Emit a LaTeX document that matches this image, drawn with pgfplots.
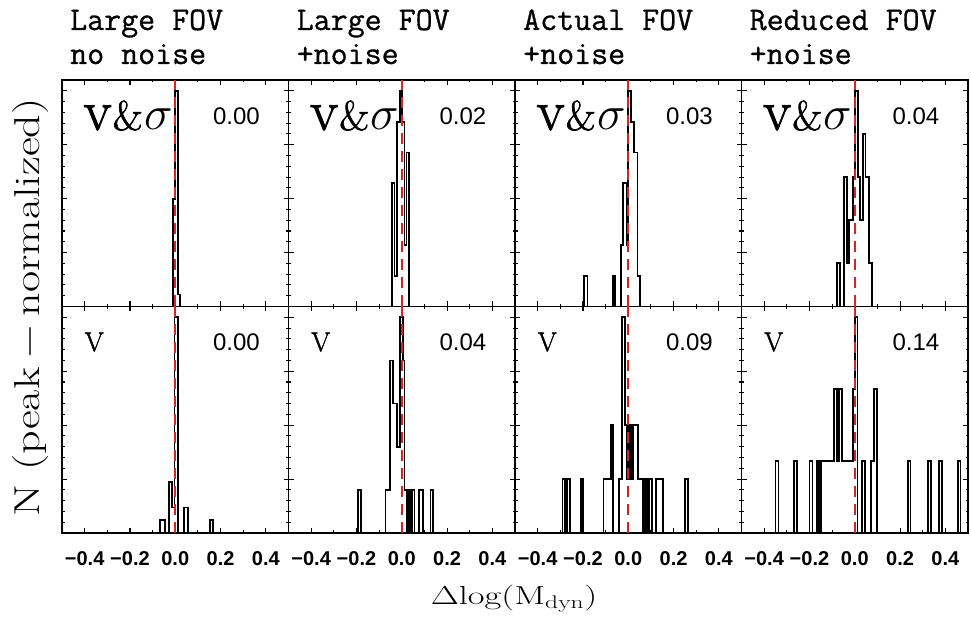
\RequirePackage{fix-cm}
\documentclass[border=0pt]{standalone}
\usepackage{amsmath}
\usepackage{fontspec}
\usepackage{graphicx}
\usepackage{pgfplots}
\pgfplotsset{compat=1.18}
\newfontfamily\sansfont{Liberation Sans}
\newfontfamily\titlefont[FakeBold=0.8]{Latin Modern Mono}
\newfontfamily\lmheavy[FakeBold=1.6]{Latin Modern Roman}
\definecolor{idlred}{RGB}{214,36,36}

\pgfplotsset{
  panel/.style={
    scale only axis, width=226.5pt, height=226.5pt,
    anchor=south west,
    xmin=-0.5, xmax=0.5, ymin=0, ymax=1.05,
    axis line style={line width=1.8pt},
    tick align=inside,
    xtick={-0.4,-0.2,0,0.2,0.4}, minor x tick num=1,
    ytick={0,0.25,0.5,0.75,1}, minor y tick num=4,
    yticklabels={}, xticklabels={},
    tick style={black, line width=1.1pt},
    major tick length=5pt, minor tick length=2.5pt,
  },
  hist/.style={const plot, black, line width=1.8pt, line join=miter, mark=none},
  zero/.style={idlred, line width=1.8pt, dash pattern=on 11pt off 7pt, mark=none},
  bottomrow/.style={xticklabels={−0.4,−0.2,0.0,0.2,0.4},
     xticklabel style={font=\sansfont\bfseries\fontsize{20}{20}\selectfont, yshift=-15pt}},
}
\newcommand{\vsig}{\scalebox{1.3}{{\lmheavy\fontsize{44}{44}\selectfont v}\kern1pt{\lmheavy\fontsize{32}{32}\selectfont\&}\kern1pt{\fontsize{37}{37}\selectfont$\sigma$}}}
\newcommand{\corner}[1]{\node[anchor=east, inner sep=0pt, font=\sansfont\fontsize{24}{24}\selectfont] at (rel axis cs:0.874,0.842) {#1};}
\newcommand{\toplabel}{\node[anchor=west, inner sep=0pt] at (rel axis cs:0.095,0.843) {\vsig};}
\newcommand{\botlabel}{\node[anchor=west, inner sep=0pt, font=\lmheavy\fontsize{26}{26}\selectfont] at (rel axis cs:0.10,0.843) {\scalebox{1.05}{V}};}

\begin{document}
\begin{tikzpicture}
\useasboundingbox (0,0) rectangle (971pt,620pt);

% ---------------- top row ----------------
\begin{axis}[panel, at={(62pt,313.5pt)}]
\addplot[hist] coordinates {(-0.5,0)(-0.010,0.5)(0,1)(0.012,0.056)(0.022,0)(0.5,0)};
\addplot[zero] coordinates {(0,0)(0,1.05)};
\toplabel \corner{0.00}
\end{axis}

\begin{axis}[panel, at={(288.5pt,313.5pt)}]
\addplot[hist] coordinates {(-0.5,0)(-0.043,0.571)(-0.032,0.143)(-0.021,0.857)(-0.009,1)(0.002,0.857)(0.012,0.286)(0.021,0.714)(0.031,0)(0.5,0)};
\addplot[zero] coordinates {(0,0)(0,1.05)};
\toplabel \corner{0.02}
\end{axis}

\begin{axis}[panel, at={(515pt,313.5pt)}]
\addplot[hist] coordinates {(-0.5,0)(-0.194,0.143)(-0.180,0)(-0.069,0.143)(-0.057,0)(-0.032,0.286)(-0.022,0.571)(-0.008,0.286)(0,1)(0.012,0.857)(0.026,0.714)(0.041,0.143)(0.053,0)(0.5,0)};
\addplot[zero] coordinates {(0,0)(0,1.05)};
\toplabel \corner{0.03}
\end{axis}

\begin{axis}[panel, at={(741.5pt,313.5pt)}]
\addplot[hist] coordinates {(-0.5,0)(-0.078,0.2)(-0.065,0)(-0.046,0.6)(-0.035,0.2)(-0.024,0.4)(-0.009,0.6)(0,1)(0.013,0.6)(0.024,0.4)(0.035,0.8)(0.047,0.6)(0.062,0.2)(0.077,0)(0.5,0)};
\addplot[zero] coordinates {(0,0)(0,1.05)};
\toplabel \corner{0.04}
\end{axis}

% ---------------- bottom row ----------------
\begin{axis}[panel, bottomrow, at={(62pt,87pt)}]
\addplot[hist] coordinates {(-0.5,0)(-0.066,0.059)(-0.044,0)(-0.026,0.235)(-0.015,0.118)(-0.003,1)(0.012,0)(0.040,0.118)(0.056,0)(0.152,0.059)(0.167,0)(0.5,0)};
\addplot[zero] coordinates {(0,0)(0,1.05)};
\botlabel \corner{0.00}
\end{axis}

\begin{axis}[panel, bottomrow, at={(288.5pt,87pt)}]
\addplot[hist] coordinates {(-0.5,0)(-0.194,0.2)(-0.180,0)(-0.072,0.2)(-0.053,0.8)(-0.040,0.6)(-0.021,0.4)(-0.009,1)(0.006,0.8)(0.012,0.2)(0.024,0)(0.032,0.2)(0.041,0)(0.047,0.2)(0.056,0)(0.075,0.2)(0.094,0)(0.127,0.2)(0.138,0)(0.5,0)};
\addplot[zero] coordinates {(0,0)(0,1.05)};
\botlabel \corner{0.04}
\end{axis}

\begin{axis}[panel, bottomrow, at={(515pt,87pt)}]
\addplot[hist] coordinates {(-0.5,0)(-0.290,0.25)(-0.280,0)(-0.269,0.25)(-0.258,0)(-0.209,0.25)(-0.199,0)(-0.109,0.25)(-0.077,0.5)(-0.066,0)(-0.040,0.25)(-0.028,1)(-0.015,0.5)(-0.006,0.25)(0.004,0.5)(0.013,0.25)(0.022,0.5)(0.044,0.25)(0.066,0)(0.069,0.25)(0.078,0)(0.082,0.25)(0.091,0)(0.094,0.25)(0.104,0)(0.122,0.25)(0.152,0)(0.252,0.25)(0.263,0)(0.5,0)};
\addplot[zero] coordinates {(0,0)(0,1.05)};
\botlabel \corner{0.09}
\end{axis}

\begin{axis}[panel, bottomrow, at={(741.5pt,87pt)}]
\addplot[hist] coordinates {(-0.5,0)(-0.350,0.333)(-0.337,0)(-0.269,0.333)(-0.256,0)(-0.200,0.333)(-0.187,0)(-0.168,0.333)(-0.157,0)(-0.150,0.333)(-0.090,0.667)(-0.079,0.333)(-0.068,0.667)(-0.056,0.333)(-0.009,0.667)(0.0015,1)(0.012,0)(0.032,0.333)(0.044,0)(0.072,0.333)(0.085,0.667)(0.097,0)(0.234,0.333)(0.246,0)(0.322,0.333)(0.336,0)(0.371,0.333)(0.384,0)(0.455,0.333)(0.467,0)(0.5,0)};
\addplot[zero] coordinates {(0,0)(0,1.05)};
\botlabel \corner{0.14}
\end{axis}

% ---------------- titles and labels ----------------
\begin{scope}[every node/.style={anchor=base west, inner sep=0pt, font=\titlefont\fontsize{33}{33}\selectfont}]
\node at (70pt,590pt) {Large FOV};    \node at (70pt,556pt) {no noise};
\node at (296.5pt,590pt) {Large FOV}; \node at (296.5pt,556pt) {+noise};
\node at (523pt,590pt) {Actual FOV};  \node at (523pt,556pt) {+noise};
\node at (749.5pt,590pt) {Reduced FOV}; \node at (749.5pt,556pt) {+noise};
\end{scope}
\node[rotate=90, inner sep=0pt, font=\fontsize{36}{36}\selectfont] at (31pt,312.5pt) {\scalebox{1.28}[1]{N (peak$\,-\,$normalized)}};
\node[anchor=base, inner sep=0pt, font=\fontsize{26}{26}\selectfont] at (514pt,15pt) {\scalebox{1.4}[1]{$\Delta\mathrm{log}(\mathrm{M}_{\mathrm{dyn}})$}};
\end{tikzpicture}
\end{document}
